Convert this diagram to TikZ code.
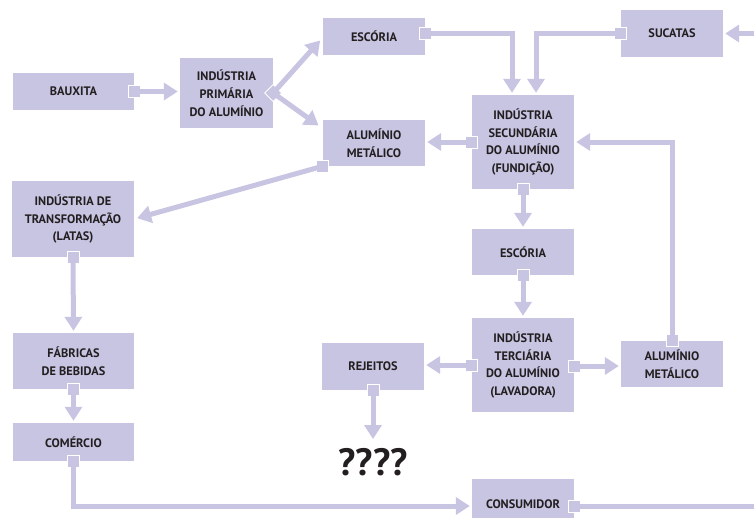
\documentclass[tikz,border=0pt]{standalone}
\usepackage{fontspec}
\setmainfont{PT Sans}
\usetikzlibrary{arrows.meta,calc}
\definecolor{lilac}{RGB}{200,197,227}
\definecolor{ink}{RGB}{35,31,32}

\tikzset{
  box/.style={fill=lilac, inner sep=0pt, align=center, text=ink,
    font=\bfseries\fontsize{12.3}{17.8}\selectfont},
  plug/.style={fill=lilac, draw=white, line width=0.8pt, minimum size=12pt, inner sep=0pt},
  flow/.style={draw=lilac, line width=5pt, -{Triangle[width=17pt,length=14pt]}, shorten >=2pt},
  wire/.style={draw=lilac, line width=5pt}
}

\begin{document}
\begin{tikzpicture}[x=1pt,y=-1pt]
\useasboundingbox (0,0) rectangle (754,517);

\node[box, minimum width=121pt, minimum height=37pt] (bauxita) at (73.5,91.5) {BAUXITA};
\node[box, minimum width=93pt, minimum height=70pt] (primaria) at (226.5,93) {INDÚSTRIA\\PRIMÁRIA\\DO ALUMÍNIO};
\node[box, minimum width=102pt, minimum height=37pt] (escoria1) at (374,36.5) {ESCÓRIA};
\node[box, minimum width=102pt, minimum height=46pt] (metal1) at (374,143) {ALUMÍNIO\\METÁLICO};
\node[box, minimum width=102pt, minimum height=47pt] (sucatas) at (672,33.5) {SUCATAS};
\node[box, minimum width=102pt, minimum height=94pt] (secundaria) at (523,142) {INDÚSTRIA\\SECUNDÁRIA\\DO ALUMÍNIO\\(FUNDIÇÃO)};
\node[box, minimum width=102pt, minimum height=46pt] (escoria2) at (523,252) {ESCÓRIA};
\node[box, minimum width=102pt, minimum height=94pt] (terciaria) at (523,365) {INDÚSTRIA\\TERCIÁRIA\\DO ALUMÍNIO\\(LAVADORA)};
\node[box, minimum width=102pt, minimum height=46pt] (metal2) at (672,364) {ALUMÍNIO\\METÁLICO};
\node[box, minimum width=102pt, minimum height=47pt] (rejeitos) at (373,366.5) {REJEITOS};
\node[text=ink, font=\bfseries\fontsize{38}{38}\selectfont, inner sep=0pt] (duvida) at (373,462) {????};
\node[box, minimum width=102pt, minimum height=50pt] (consumidor) at (523,504) {CONSUMIDOR};
\node[box, minimum width=122pt, minimum height=76pt] (latas) at (73,219) {INDÚSTRIA DE\\TRANSFORMAÇÃO\\(LATAS)};
\node[box, minimum width=121pt, minimum height=56pt] (fabricas) at (73.5,361) {FÁBRICAS\\DE BEBIDAS};
\node[box, minimum width=121pt, minimum height=38pt] (comercio) at (73.5,442) {COMÉRCIO};

\coordinate (borda1) at (754,33.5);
\coordinate (borda2) at (754,506);

\node[plug] (pa) at (bauxita.east) {};
\node[plug, rotate=45] (pb) at (primaria.east) {};
\node[plug] (pc) at ($(escoria1.east)+(0,-3)$) {};
\node[plug] (pd) at (sucatas.west) {};
\node[plug] (pe) at (secundaria.west) {};
\node[plug] (pf) at (secundaria.south) {};
\node[plug] (pg) at (escoria2.south) {};
\node[plug] (ph) at (terciaria.west) {};
\node[plug] (pi) at ($(terciaria.east)+(0,1)$) {};
\node[plug] (pj) at (metal2.north) {};
\node[plug] (pk) at (rejeitos.south) {};
\node[plug] (pl) at (metal1.south west) {};
\node[plug] (pm) at (latas.south) {};
\node[plug] (pn) at (fabricas.south) {};
\node[plug] (po) at (comercio.south) {};
\node[plug] (pq) at ($(consumidor.east)+(0,2)$) {};

\draw[flow] (pa.center) -- (pa.center -| primaria.west);
\draw[flow, shorten >=4pt] (pb.center) -- ($(escoria1.west)+(0,1)$);
\draw[flow, shorten >=4pt] (pb.center) -- ($(metal1.north west)+(-1,8)$);
\draw[flow] (pc.center) -| ($(secundaria.north)+(-11,0)$);
\draw[flow] (pd.center) -| ($(secundaria.north)+(13,0)$);
\draw[flow] (borda1) -- (sucatas.east);
\draw[flow] (pe.center) -- (pe.center -| metal1.east);
\draw[flow] (pf.center) -- (escoria2.north);
\draw[flow] (pg.center) -- (terciaria.north);
\draw[flow] (ph.center) -- (ph.center -| rejeitos.east);
\draw[flow] (pi.center) -- (pi.center -| metal2.west);
\draw[flow] (pj.center) |- (secundaria.east);
\draw[flow, shorten >=9pt] (pk.center) -- (duvida.north);
\draw[flow, shorten >=3pt] (pl.center) -- (latas.east);
\draw[flow] (pm.center) -- (fabricas.north);
\draw[flow] (pn.center) -- (comercio.north);
\draw[flow] (po.center) |- ($(consumidor.west)+(0,2)$);
\draw[wire] (pq.center) -- (borda2);
\end{tikzpicture}
\end{document}
